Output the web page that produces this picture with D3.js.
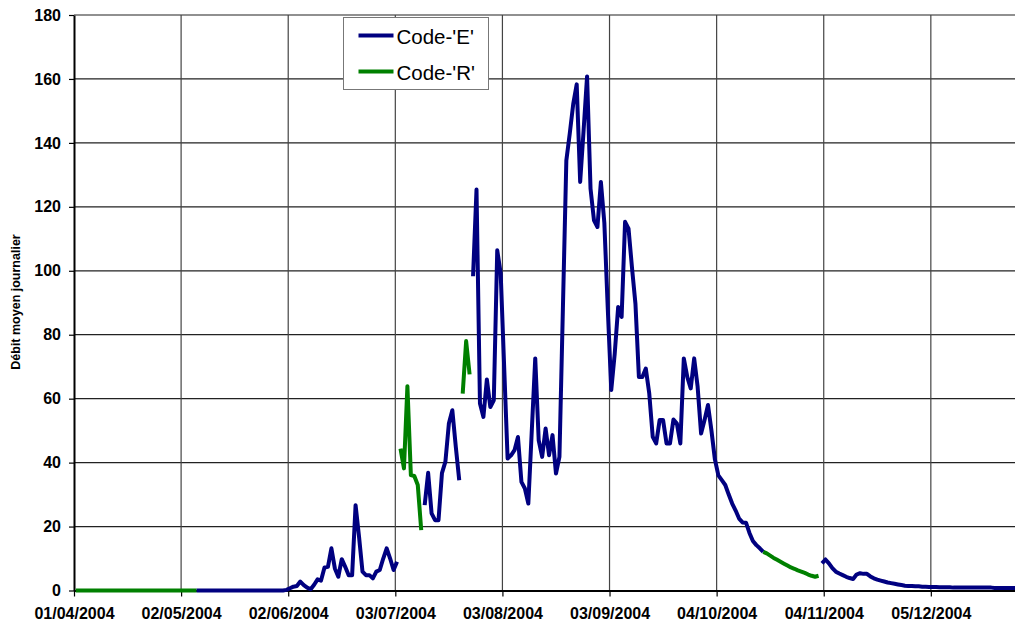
<!DOCTYPE html>
<html>
<head>
<meta charset="utf-8">
<script src="https://cdn.jsdelivr.net/npm/d3@7"></script>
<style>
  body { margin: 0; background: #fff; }
  svg text { font-family: "Liberation Sans", Arial, sans-serif; }
  .axis path, .axis line { stroke: #000; }
  .axis text { font-weight: bold; font-size: 16px; fill: #000; }
</style>
</head>
<body>
<svg class="chart"></svg>
<script>
//======
// Data
//======

// tick labels of the x axis (Excel steps of 31 days)
var xTickLabels = ["01/04/2004", "02/05/2004", "02/06/2004", "03/07/2004", "03/08/2004",
  "03/09/2004", "04/10/2004", "04/11/2004", "05/12/2004"];
var yTicks = [0, 20, 40, 60, 80, 100, 120, 140, 160, 180];
var codes = ["Code-'E'", "Code-'R'"];

// daily values, one array per unbroken run, with its first day
var r1Start = "01/04/2004";
var r1 = [0, 0, 0, 0, 0, 0, 0, 0, 0, 0, 0, 0, 0, 0, 0, 0, 0, 0, 0, 0, 0, 0, 0, 0, 0, 0, 0, 0, 0, 0,
  0, 0, 0, 0, 0, 0];

var e1Start = "06/05/2004";
var e1 = [0, 0, 0, 0, 0, 0, 0, 0, 0, 0, 0, 0, 0, 0, 0, 0, 0, 0, 0, 0, 0, 0, 0, 0, 0, 0,
  0.2, 0.7, 1.2, 1.4, 2.8, 1.7, 0.9, 0.4, 1.8, 3.5, 3.1, 7.2, 7.4, 13.2, 6.9, 4.3, 9.8, 7.4,
  4.8, 4.8, 26.7, 16.8, 5.9, 4.8, 4.8, 3.8, 5.9, 6.4, 10, 13.2, 10, 6.4, 9];

var r2Start = "04/07/2004";
var r2 = [44.4, 38.2, 63.9, 36.1, 35.8, 33, 18.9];

var e2Start = "11/07/2004";
var e2 = [26.7, 36.8, 24.1, 22, 22, 36.7, 40.3, 52.2, 56.4, 45, 34.5];

var r3Start = "22/07/2004";
var r3 = [61.6, 78, 67.6];

var e3Start = "25/07/2004";
var e3 = [98.3, 125.4, 58.5, 54.3, 66, 57.4, 59.5, 106.4, 99.1, 70,
  41.3, 42.3, 43.9, 48, 34, 31.9, 27.2, 50, 72.6, 47, 41.8, 50.7, 42.3, 48.6, 36.6, 41.8,
  88, 134.5, 143, 152.2, 158.3, 127.8, 144, 160.8, 125.7, 115.8, 113.7, 127.8, 115, 88,
  62.7, 74, 88.7, 85.6, 115.3, 113.2, 101, 89.7, 66.8, 66.8, 69.4, 61.6, 48.1, 46, 53.3,
  53.3, 46, 46, 53.5, 52.2, 46, 72.6, 66.8, 63.2, 72.6, 63.7, 49.1, 53.3, 58, 50,
  41, 36, 34.5, 33, 30, 27.2, 25, 22.5, 21.3, 21.2, 18, 15.5, 14.2, 13.2, 12.1];

var r4Start = "17/10/2004";
var r4 = [12.1, 11.6, 10.9, 10.2, 9.6, 9.0, 8.4, 7.8, 7.2, 6.8, 6.3, 5.9, 5.5, 5.0, 4.6, 4.3, 4.6];

var e4Start = "03/11/2004";
var e4 = [8.5, 9.7, 8.5, 7.0, 5.9, 5.3, 4.8, 4.3, 3.9, 3.6, 5.0, 5.4, 5.2, 5.2, 4.4, 3.8,
  3.4, 3.1, 2.8, 2.5, 2.3, 2.1, 1.9, 1.7, 1.5, 1.4, 1.4, 1.3, 1.3, 1.2, 1.2, 1.1, 1.1, 1.1,
  1.0, 1.0, 1.0, 1.0, 0.9, 0.9, 0.9, 0.9, 0.9, 0.9, 0.9, 0.9, 0.9, 0.9, 0.9, 0.9, 0.8, 0.8,
  0.8, 0.8, 0.8, 0.8, 0.8, 0.8, 0.8];

//=======
// Chart
//=======

var width = 1015,
  height = 624,
  plotLeft = 74,
  plotTop = 15,
  plotBottom = 590.5;

var colors = { E: "#000080", R: "#008000" };

var parse = d3.timeParse("%d/%m/%Y");
var firstDay = parse(xTickLabels[0]);
var lastDay = parse("31/12/2004");

var svg = d3.select(".chart")
  .attr("width", width)
  .attr("height", height);

// 3.455 px per day, same as the picture
var xScale = d3.scaleTime()
  .domain([firstDay, lastDay])
  .range([plotLeft, plotLeft + d3.timeDay.count(firstDay, lastDay) * 3.455]);

var yScale = d3.scaleLinear()
  .domain([0, 180])
  .range([plotBottom, plotTop]);

var tickDates = xTickLabels.map(parse);

// grid
svg.append("g")
  .selectAll("line")
  .data(yTicks.slice(1))
  .enter()
  .append("line")
  .attr("x1", plotLeft)
  .attr("x2", width)
  .attr("y1", function(d) { return yScale(d); })
  .attr("y2", function(d) { return yScale(d); })
  .attr("stroke", "#222")
  .attr("stroke-width", 1.2);

svg.append("g")
  .selectAll("line")
  .data(tickDates.slice(1))
  .enter()
  .append("line")
  .attr("x1", function(d) { return xScale(d); })
  .attr("x2", function(d) { return xScale(d); })
  .attr("y1", plotTop)
  .attr("y2", plotBottom)
  .attr("stroke", "#444")
  .attr("stroke-width", 1.2);

// axes
var yAxis = svg.append("g")
  .attr("class", "axis")
  .attr("transform", "translate(" + plotLeft + ",0)")
  .call(d3.axisLeft(yScale).tickValues(yTicks).tickSize(5).tickSizeOuter(0).tickPadding(8));
yAxis.select(".domain").attr("stroke-width", 2);
yAxis.selectAll(".tick line").attr("stroke-width", 1.2);

var xAxis = svg.append("g")
  .attr("class", "axis")
  .attr("transform", "translate(0," + plotBottom + ")")
  .call(d3.axisBottom(xScale).tickValues(tickDates).tickSize(6).tickSizeOuter(0)
    .tickPadding(11).tickFormat(d3.timeFormat("%d/%m/%Y")));
xAxis.select(".domain").attr("stroke-width", 2);
xAxis.selectAll(".tick line").attr("stroke-width", 1.2);

svg.append("text")
  .attr("transform", "translate(20,302) rotate(-90)")
  .attr("text-anchor", "middle")
  .style("font-weight", "bold")
  .style("font-size", "12.5px")
  .text("Débit moyen journalier");

// series runs
var runs = [
  { code: "R", start: r1Start, values: r1 },
  { code: "E", start: e1Start, values: e1 },
  { code: "R", start: r2Start, values: r2 },
  { code: "E", start: e2Start, values: e2 },
  { code: "R", start: r3Start, values: r3 },
  { code: "E", start: e3Start, values: e3 },
  { code: "R", start: r4Start, values: r4 },
  { code: "E", start: e4Start, values: e4 }
];

// Excel puts each day in the middle of its slot
var line = d3.line()
  .x(function(d) { return xScale(d.date); })
  .y(function(d) { return yScale(d.value); });

svg.append("g")
  .selectAll("path")
  .data(runs)
  .enter()
  .append("path")
  .attr("d", function(run) {
    var s = parse(run.start);
    return line(run.values.map(function(v, i) {
      return { date: d3.timeHour.offset(d3.timeDay.offset(s, i), 12), value: v };
    }));
  })
  .attr("fill", "none")
  .attr("stroke", function(run) { return colors[run.code]; })
  .attr("stroke-width", 4)
  .attr("stroke-linejoin", "round")
  .attr("stroke-linecap", "butt");

// legend
var legend = svg.append("g").attr("transform", "translate(343.5,17.5)");
legend.append("rect")
  .attr("width", 145)
  .attr("height", 72)
  .attr("fill", "#fff")
  .attr("stroke", "#777")
  .attr("stroke-width", 1);

var item = legend.selectAll(".item")
  .data(codes)
  .enter()
  .append("g")
  .attr("transform", function(d, i) { return "translate(0," + (18 + i * 36) + ")"; });

item.append("line")
  .attr("x1", 15)
  .attr("x2", 50)
  .attr("stroke", function(d, i) { return i === 0 ? colors.E : colors.R; })
  .attr("stroke-width", 4);

item.append("text")
  .attr("x", 53)
  .attr("y", 8.5)
  .style("font-size", "20.5px")
  .text(function(d) { return d; });
</script>
</body>
</html>
